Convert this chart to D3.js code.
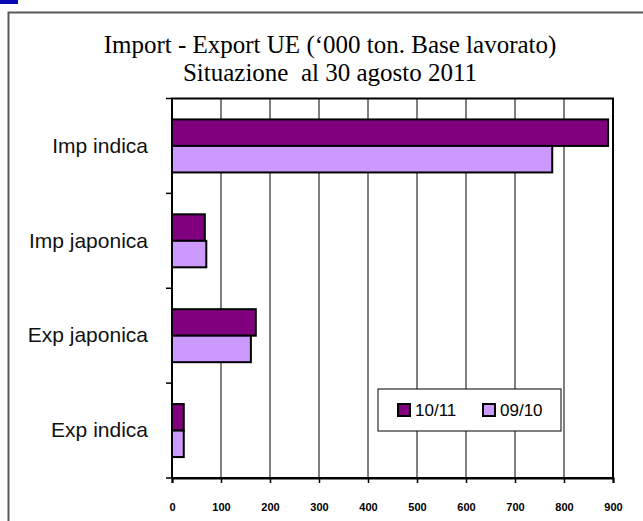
<!DOCTYPE html>
<html>
<head>
<meta charset="utf-8">
<script src="https://cdn.jsdelivr.net/npm/d3@7/dist/d3.min.js"></script>
<style>
  html, body { margin: 0; padding: 0; background: #fff; }
  svg { display: block; }
</style>
</head>
<body>
<svg id="chart" width="643" height="521"></svg>
<script>
const categories = ["Imp indica", "Imp japonica", "Exp japonica", "Exp indica"];
const seriesNames = ["10/11", "09/10"];
const values1011 = [890, 67, 171, 24];
const values0910 = [776, 70, 161, 24];
const xTicks = [0, 100, 200, 300, 400, 500, 600, 700, 800, 900];
const titleLines = ["Import - Export UE (\u2018000 ton. Base lavorato)", "Situazione\u00a0 al 30 agosto 2011"];
const colors = ["#800080", "#CC99FF"];

const svg = d3.select("#chart");
const W = 643, H = 521;
const plot = { left: 172, right: 613, top: 98.5, bottom: 478 };

// outer frame and corner mark
svg.append("rect").attr("x", 0).attr("y", 0).attr("width", 18).attr("height", 4).attr("fill", "#0a0ab4");
svg.append("path").attr("d", `M8.5,${H + 5}V12.5H${W + 5}`).attr("fill", "none").attr("stroke", "#5a5a5a").attr("stroke-width", 2);

// title
titleLines.forEach((t, i) => svg.append("text").attr("text-anchor", "middle")
  .style("font-family", "'Liberation Serif', 'Times New Roman', serif").style("font-size", "25px").attr("fill", "#000")
  .attr("x", 330).attr("y", 53 + i * 28).text(t));

const x = d3.scaleLinear().domain([0, 900]).range([plot.left, plot.right]);
const y0 = d3.scaleBand().domain(categories).range([plot.top, plot.bottom]).padding(0);
const y1 = d3.scaleBand().domain(seriesNames).range([0, y0.bandwidth()]).paddingInner(0).paddingOuter(0.79);

// gridlines
svg.append("g").selectAll("line").data(xTicks.slice(1, -1)).join("line")
  .attr("x1", d => x(d)).attr("x2", d => x(d))
  .attr("y1", plot.top).attr("y2", plot.bottom)
  .attr("stroke", "#000").attr("stroke-width", 1);

// plot border
svg.append("rect").attr("x", plot.left).attr("y", plot.top)
  .attr("width", plot.right - plot.left).attr("height", plot.bottom - plot.top)
  .attr("fill", "none").attr("stroke", "#000").attr("stroke-width", 2);

// bars
const data = categories.map((c, i) => ({ cat: c, vals: [values1011[i], values0910[i]] }));
const groups = svg.append("g").selectAll("g").data(data).join("g")
  .attr("transform", d => `translate(0,${y0(d.cat)})`);
groups.selectAll("rect").data(d => d.vals.map((v, j) => ({ s: seriesNames[j], v, j }))).join("rect")
  .attr("x", x(0)).attr("y", d => y1(d.s))
  .attr("width", d => x(d.v) - x(0)).attr("height", y1.bandwidth())
  .attr("fill", d => colors[d.j]).attr("stroke", "#000").attr("stroke-width", 2);

// x axis
const xAxis = d3.axisBottom(x).tickValues(xTicks).tickSize(5).tickPadding(20).tickFormat(d3.format("d"));
const gx = svg.append("g").attr("transform", `translate(0,${plot.bottom})`).call(xAxis);
gx.select(".domain").attr("stroke", "#000").attr("stroke-width", 2);
gx.selectAll(".tick line").attr("stroke", "#000").attr("stroke-width", 1.5);
gx.selectAll("text").style("font-family", "'Liberation Sans', Arial, sans-serif").style("font-size", "11px")
  .style("font-weight", "bold").attr("fill", "#000");

// y axis ticks at band boundaries
const bounds = categories.map(c => y0(c)).concat([plot.bottom]);
svg.append("g").selectAll("line").data(bounds).join("line")
  .attr("x1", plot.left - 6).attr("x2", plot.left).attr("y1", d => d).attr("y2", d => d)
  .attr("stroke", "#000").attr("stroke-width", 1.5);
const yAxis = d3.axisLeft(y0).tickSize(0).tickPadding(24);
const gy = svg.append("g").attr("transform", `translate(${plot.left},0)`).call(yAxis);
gy.select(".domain").remove();
gy.selectAll("text").style("font-family", "'Liberation Sans', Arial, sans-serif").style("font-size", "21px")
  .attr("fill", "#111");

// legend
const lg = svg.append("g").attr("transform", "translate(378,389)");
lg.append("rect").attr("width", 183).attr("height", 42).attr("fill", "#fff").attr("stroke", "#000").attr("stroke-width", 1);
const itemX = [20, 105];
seriesNames.forEach((s, i) => {
  lg.append("rect").attr("x", itemX[i]).attr("y", 15).attr("width", 12).attr("height", 12)
    .attr("fill", colors[i]).attr("stroke", "#000").attr("stroke-width", 2);
  lg.append("text").attr("x", itemX[i] + 17).attr("y", 27)
    .style("font-family", "'Liberation Sans', Arial, sans-serif").style("font-size", "17px")
    .attr("fill", "#000").text(s);
});
</script>
</body>
</html>
